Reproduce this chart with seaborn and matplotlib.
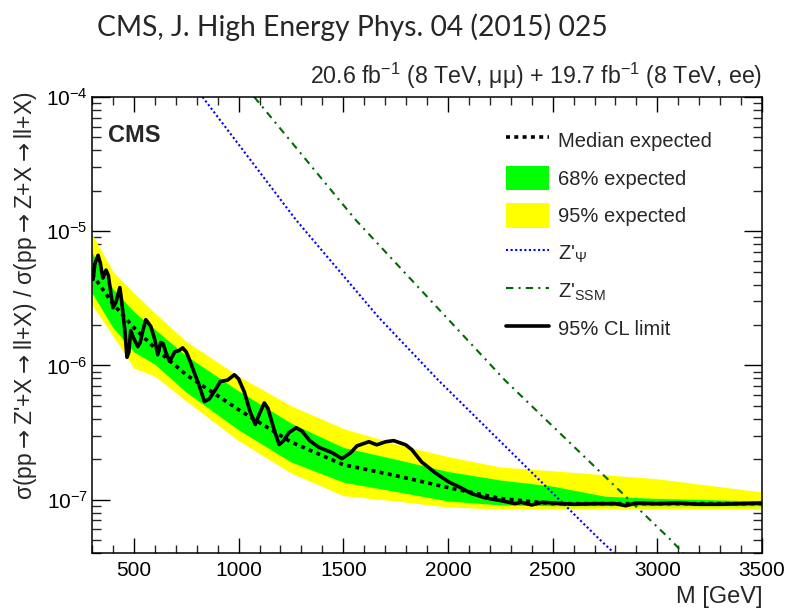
import matplotlib
matplotlib.use("Agg")
import numpy as np
import pandas as pd
import matplotlib.pyplot as plt
import seaborn as sns
from matplotlib.patches import Patch
from matplotlib.lines import Line2D
from matplotlib.ticker import LogLocator, MultipleLocator, NullFormatter, LogFormatterSciNotation

# ---------------- data ----------------
mass_band = [300, 400, 500, 600, 750, 1000, 1250, 1500, 1750, 2000, 2250, 2500, 2750, 3000, 3500]
median_expected = [4.79e-6, 2.88e-6, 1.91e-6, 1.35e-6, 8.51e-7, 4.68e-7, 2.69e-7, 1.82e-7,
                   1.51e-7, 1.23e-7, 1.02e-7, 9.33e-8, 9.33e-8, 9.33e-8, 9.33e-8]
band95_hi = [9.55e-6, 5.01e-6, 3.47e-6, 2.46e-6, 1.51e-6, 8.32e-7, 5.01e-7, 3.39e-7,
             2.60e-7, 2.09e-7, 1.75e-7, 1.64e-7, 1.53e-7, 1.43e-7, 1.14e-7]
band68_hi = [6.92e-6, 3.72e-6, 2.51e-6, 1.86e-6, 1.18e-6, 6.46e-7, 3.72e-7, 2.45e-7,
             2.00e-7, 1.62e-7, 1.40e-7, 1.26e-7, 1.06e-7, 1.02e-7, 9.77e-8]
band68_lo = [3.47e-6, 1.91e-6, 1.26e-6, 1.02e-6, 6.31e-7, 3.31e-7, 1.91e-7, 1.35e-7,
             1.15e-7, 9.77e-8, 9.12e-8, 9.00e-8, 9.00e-8, 9.00e-8, 9.00e-8]
band95_lo = [2.82e-6, 1.66e-6, 9.55e-7, 8.32e-7, 5.43e-7, 2.75e-7, 1.58e-7, 1.07e-7,
             9.77e-8, 8.81e-8, 8.51e-8, 8.51e-8, 8.51e-8, 8.51e-8, 8.51e-8]

mass_obs = [300, 305, 314, 329, 340, 352, 367, 378, 390, 400, 414, 433, 440, 457, 467, 476,
            485, 500, 519, 530, 543, 557, 581, 600, 614, 628, 640, 652, 671, 695, 715, 733,
            750, 766, 790, 810, 837, 860, 890, 913, 947, 980, 1000, 1028, 1056, 1080, 1100,
            1123, 1140, 1170, 1194, 1215, 1241, 1275, 1303, 1340, 1384, 1446, 1494, 1536,
            1565, 1608, 1622, 1660, 1703, 1741, 1798, 1827, 1874, 1940, 2002, 2064, 2112,
            2178, 2254, 2321, 2350, 2400, 2450, 2500, 2600, 2700, 2800, 2850, 2900, 3000,
            3100, 3200, 3300, 3400, 3500]
limit_obs = [5.01e-6, 4.37e-6, 5.75e-6, 6.61e-6, 5.75e-6, 4.47e-6, 5.13e-6, 4.68e-6, 3.47e-6,
             2.69e-6, 2.95e-6, 3.80e-6, 3.16e-6, 1.82e-6, 1.15e-6, 1.26e-6, 1.82e-6, 1.58e-6,
             1.38e-6, 1.48e-6, 1.82e-6, 2.19e-6, 1.95e-6, 1.55e-6, 1.20e-6, 1.48e-6, 1.45e-6,
             1.26e-6, 1.07e-6, 1.26e-6, 1.29e-6, 1.35e-6, 1.26e-6, 1.10e-6, 8.71e-7, 7.24e-7,
             5.37e-7, 5.62e-7, 6.61e-7, 7.59e-7, 7.76e-7, 8.51e-7, 7.94e-7, 6.31e-7, 4.47e-7,
             3.63e-7, 4.37e-7, 5.25e-7, 4.79e-7, 3.31e-7, 2.57e-7, 2.75e-7, 3.16e-7, 3.43e-7,
             3.24e-7, 2.75e-7, 2.45e-7, 2.24e-7, 2.02e-7, 2.24e-7, 2.51e-7, 2.65e-7, 2.70e-7,
             2.56e-7, 2.70e-7, 2.75e-7, 2.56e-7, 2.36e-7, 1.91e-7, 1.58e-7, 1.36e-7, 1.22e-7,
             1.11e-7, 1.03e-7, 9.82e-8, 9.33e-8, 9.55e-8, 9.12e-8, 9.55e-8, 9.44e-8, 9.23e-8,
             9.33e-8, 9.33e-8, 9.00e-8, 9.44e-8, 9.33e-8, 9.44e-8, 9.23e-8, 9.23e-8, 9.33e-8,
             9.44e-8]

mass_psi = [828, 1275, 1669, 1955, 2716, 2791]
xsec_psi = [1.0e-4, 1.21e-5, 2.28e-6, 7.73e-7, 5.20e-8, 4.03e-8]
mass_ssm = [1075, 1560, 2273, 3058, 3125]
xsec_ssm = [1.0e-4, 1.21e-5, 7.73e-7, 5.12e-8, 3.98e-8]

x_ticks = [500, 1000, 1500, 2000, 2500, 3000, 3500]
legend_labels = ["Median expected", "68% expected", "95% expected",
                 "Z'$_{\\Psi}$", "Z'$_{\\mathrm{SSM}}$", "95% CL limit"]

# ---------------- style ----------------
sns.set_theme(style="ticks")
plt.rcParams['font.family'] = ['Liberation Sans', 'DejaVu Sans']
plt.rcParams['mathtext.fontset'] = 'custom'
plt.rcParams['mathtext.rm'] = 'Liberation Sans'
plt.rcParams['mathtext.it'] = 'Liberation Sans:italic'
plt.rcParams['mathtext.bf'] = 'Liberation Sans:bold'
plt.rcParams['axes.linewidth'] = 1.1

W, H = 800, 615
fig = plt.figure(figsize=(W / 100, H / 100), dpi=100)
fig.patch.set_facecolor('white')
ax_l, ax_r, ax_t, ax_b = 92, 762, 97, 553
ax = fig.add_axes([ax_l / W, 1 - ax_b / H, (ax_r - ax_l) / W, (ax_b - ax_t) / H])
ax.set_facecolor('white')

band_df = pd.DataFrame({"M": mass_band, "median": median_expected,
                        "y95lo": band95_lo, "y95hi": band95_hi,
                        "y68lo": band68_lo, "y68hi": band68_hi})
ax.fill_between(band_df["M"], band_df["y95lo"], band_df["y95hi"], color='#ffff00', lw=0, zorder=1)
ax.fill_between(band_df["M"], band_df["y68lo"], band_df["y68hi"], color='#00ff00', lw=0, zorder=2)

median_ls = (0, (1.1, 1.2))
sns.lineplot(data=band_df, x="M", y="median", ax=ax, color='black', lw=2.6,
             linestyle=median_ls, estimator=None, sort=False, zorder=3)

psi_df = pd.DataFrame({"M": mass_psi, "xs": xsec_psi})
ssm_df = pd.DataFrame({"M": mass_ssm, "xs": xsec_ssm})
obs_df = pd.DataFrame({"M": mass_obs, "xs": limit_obs})
psi_ls = (0, (1, 1.2))
ssm_ls = (0, (3.5, 2.5, 1, 2.5))
sns.lineplot(data=psi_df, x="M", y="xs", ax=ax, color='#0000ff', lw=1.5,
             linestyle=psi_ls, estimator=None, sort=False, zorder=4)
sns.lineplot(data=ssm_df, x="M", y="xs", ax=ax, color='#006a00', lw=1.5,
             linestyle=ssm_ls, estimator=None, sort=False, zorder=4)
sns.lineplot(data=obs_df, x="M", y="xs", ax=ax, color='black', lw=2.6,
             estimator=None, sort=False, zorder=5)

ax.set_yscale('log')
ax.set_xlim(300, 3500)
ax.set_ylim(4e-8, 1e-4)
ax.set_xlabel('')
ax.set_ylabel('')
ax.xaxis.set_major_locator(plt.FixedLocator(x_ticks))
ax.xaxis.set_minor_locator(MultipleLocator(100))
ax.yaxis.set_major_locator(LogLocator(base=10, numticks=10))
ax.yaxis.set_minor_locator(LogLocator(base=10, subs=np.arange(2, 10), numticks=20))
ax.yaxis.set_minor_formatter(NullFormatter())
ax.yaxis.set_major_formatter(LogFormatterSciNotation())
for s in ax.spines.values():
    s.set_visible(True)
    s.set_linewidth(1.1)
    s.set_color('black')
    s.set_zorder(10)
ax.tick_params(axis='x', which='major', direction='in', length=11, width=1.0,
               top=True, bottom=True, labelsize=15, pad=6, colors='black')
ax.tick_params(axis='x', which='minor', direction='in', length=5.8, width=1.0,
               top=True, bottom=True)
ax.tick_params(axis='y', which='major', direction='in', length=13, width=1.0,
               left=True, right=True, labelsize=15, pad=3, colors='black')
ax.tick_params(axis='y', which='minor', direction='in', length=6.5, width=1.0,
               left=True, right=True)

# ---------------- text ----------------
fig.text(97 / W, 1 - 36 / H, "CMS, J. High Energy Phys. 04 (2015) 025",
         fontsize=20.3, family=['Lato', 'DejaVu Sans'], ha='left', va='baseline')
fig.text(ax_r / W, 1 - 84 / H, "20.6 fb$^{-1}$ (8 TeV, μμ) + 19.7 fb$^{-1}$ (8 TeV, ee)",
         fontsize=16.7, ha='right', va='baseline')
ax.text(108 / W, 1 - 142 / H, "CMS", transform=fig.transFigure, fontsize=17,
        fontweight='bold', ha='left', va='baseline')
fig.text(ax_r / W, 1 - 597 / H, "M [GeV]", fontsize=17, ha='right', va='center')
fig.text(26 / W, 1 - 91 / H,
         "σ(pp$\\rightarrow$Z'+X$\\rightarrow$ll+X) / σ(pp$\\rightarrow$Z+X$\\rightarrow$ll+X)",
         fontsize=16.5, math_fontfamily='dejavusans', rotation=90, ha='center', va='top')

# ---------------- legend ----------------
handles = [
    Line2D([], [], color='black', lw=2.6, linestyle=median_ls),
    Patch(facecolor='#00ff00', edgecolor='none'),
    Patch(facecolor='#ffff00', edgecolor='none'),
    Line2D([], [], color='#0000ff', lw=1.5, linestyle=psi_ls),
    Line2D([], [], color='#006a00', lw=1.5, linestyle=ssm_ls),
    Line2D([], [], color='black', lw=2.6),
]
leg = fig.legend(handles, legend_labels, loc='upper left',
                 bbox_to_anchor=(506 / W, 1 - 128 / H), frameon=False, fontsize=14.5,
                 handlelength=2.15, handleheight=1.5, labelspacing=0.65,
                 handletextpad=0.45, borderpad=0, borderaxespad=0)

fig.savefig("out.png", dpi=100, facecolor='white')
